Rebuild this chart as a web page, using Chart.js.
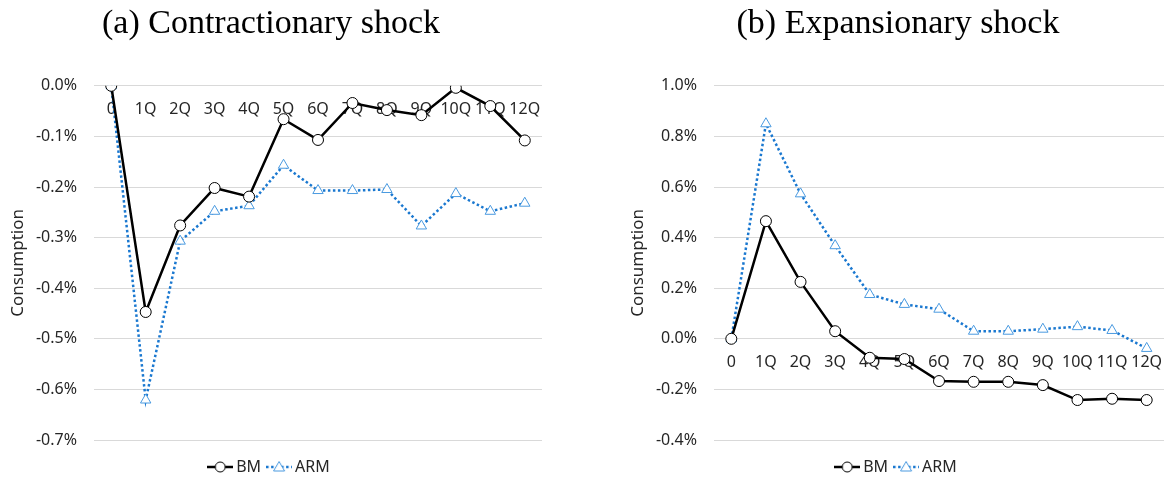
<!DOCTYPE html>
<html>
<head>
<meta charset="utf-8">
<script src="https://cdn.jsdelivr.net/npm/chart.js@4/dist/chart.umd.min.js"></script>
<style>
  html, body { margin: 0; padding: 0; background: #fff; overflow: hidden; }
  #wrap { position: relative; width: 1164px; height: 479px; overflow: hidden; }
  canvas { position: absolute; top: 0; }
</style>
</head>
<body>
<div id="wrap">
  <canvas id="contrChart" width="544" height="479" style="left:0"></canvas>
  <canvas id="expChart" width="544" height="479" style="left:620px"></canvas>
</div>
<script>
const horizons = ['0', '1Q', '2Q', '3Q', '4Q', '5Q', '6Q', '7Q', '8Q', '9Q', '10Q', '11Q', '12Q'];

// (a) contractionary shock, consumption response in %
const contrBM  = [0, -0.447, -0.276, -0.202, -0.219, -0.066, -0.107, -0.034, -0.048, -0.058, -0.004, -0.040, -0.108];
const contrARM = [0, -0.621, -0.307, -0.248, -0.237, -0.157, -0.207, -0.207, -0.205, -0.277, -0.213, -0.248, -0.232];

// (b) expansionary shock
const expBM  = [0, 0.465, 0.225, 0.030, -0.075, -0.080, -0.167, -0.170, -0.170, -0.183, -0.242, -0.237, -0.242];
const expARM = [0, 0.850, 0.573, 0.368, 0.175, 0.136, 0.117, 0.030, 0.030, 0.038, 0.048, 0.033, -0.038];

const seriesNames = ['BM', 'ARM'];

const blue = '#1a78d0';
const blueMarker = '#4a9ae0';
const textColor = '#262626';
const sans = '"Noto Sans", sans-serif';

// little legend swatches: line + marker, like Excel
function swatch(kind) {
    const c = document.createElement('canvas');
    c.width = 26; c.height = 14;
    const g = c.getContext('2d');
    g.lineWidth = 2.5;
    if (kind === 'BM') {
        g.strokeStyle = '#000';
        g.beginPath(); g.moveTo(0, 7); g.lineTo(26, 7); g.stroke();
        g.lineWidth = 1;
        g.fillStyle = '#fff';
        g.beginPath(); g.arc(13, 7, 5, 0, Math.PI * 2); g.fill(); g.stroke();
    } else {
        g.strokeStyle = blue;
        g.setLineDash([2.5, 2.5]);
        g.beginPath(); g.moveTo(0, 7); g.lineTo(26, 7); g.stroke();
        g.setLineDash([]);
        g.lineWidth = 1;
        g.strokeStyle = blueMarker;
        g.fillStyle = '#fff';
        g.beginPath(); g.moveTo(13, 1.5); g.lineTo(18.5, 11); g.lineTo(7.5, 11); g.closePath(); g.fill(); g.stroke();
    }
    return c;
}

function makeChart(id, title, bm, arm, yMin, yMax, yStep, padRight) {
    const ctx = document.getElementById(id).getContext('2d');
    return new Chart(ctx, {
        type: 'line',
        data: {
            labels: horizons,
            datasets: [{
                label: seriesNames[0],
                data: bm,
                borderColor: '#000',
                borderWidth: 2.5,
                pointStyle: 'circle',
                pointRadius: 5.5,
                pointBorderWidth: 1,
                pointBorderColor: '#000',
                pointBackgroundColor: '#fff',
                tension: 0
            }, {
                label: seriesNames[1],
                data: arm,
                borderColor: blue,
                borderWidth: 2.5,
                borderDash: [2.5, 2.5],
                pointStyle: 'triangle',
                pointRadius: 6,
                pointBorderWidth: 1,
                pointBorderColor: blueMarker,
                pointBackgroundColor: '#fff',
                tension: 0
            }]
        },
        options: {
            responsive: false,
            animation: false,
            layout: { autoPadding: false, padding: { left: 0, right: padRight, bottom: -6 } },
            plugins: {
                title: {
                    display: true,
                    text: title,
                    color: '#000',
                    font: { family: '"Liberation Serif", serif', size: 34, weight: 'normal' },
                    padding: { top: 4, bottom: 41 }
                },
                legend: {
                    position: 'bottom',
                    title: { display: true, text: '', font: { size: 5 }, padding: { top: 3, bottom: 0 } },
                    labels: {
                        usePointStyle: true,
                        pointStyleWidth: 16,
                        padding: 10,
                        color: textColor,
                        font: { family: sans, size: 16 },
                        generateLabels: (chart) => chart.data.datasets.map((ds, i) => ({
                            text: ds.label,
                            pointStyle: swatch(ds.label),
                            fontColor: textColor,
                            lineWidth: 0,
                            datasetIndex: i
                        }))
                    }
                },
                tooltip: { enabled: false }
            },
            scales: {
                x: {
                    position: { y: 0 },
                    offset: true,
                    grid: { display: false, drawTicks: false },
                    border: { display: false },
                    ticks: {
                        color: textColor,
                        font: { family: sans, size: 16 },
                        padding: 14,
                        autoSkip: false,
                        maxRotation: 0,
                        minRotation: 0
                    },
                    // labels sit inside the plot, they need no side room
                    afterFit: (scale) => { scale.paddingLeft = 0; scale.paddingRight = 0; }
                },
                y: {
                    min: yMin,
                    max: yMax,
                    grid: { color: '#d9d9d9', lineWidth: 1, drawTicks: false },
                    border: { display: false },
                    ticks: {
                        stepSize: yStep,
                        color: textColor,
                        font: { family: sans, size: 16 },
                        padding: 17,
                        callback: (v) => (Math.abs(v) < 1e-9 ? 0 : v).toFixed(1) + '%'
                    },
                    title: {
                        display: true,
                        text: 'Consumption',
                        color: textColor,
                        font: { family: sans, size: 17 },
                        padding: { top: 8, bottom: 0 }
                    },
                    afterFit: (scale) => { scale.width = 94; }
                }
            }
        }
    });
}

makeChart('contrChart', '(a) Contractionary shock', contrBM, contrARM, -0.7, 0, 0.1, 2);
makeChart('expChart', '(b) Expansionary shock', expBM, expARM, -0.4, 1.0, 0.2, -12);
</script>
</body>
</html>
